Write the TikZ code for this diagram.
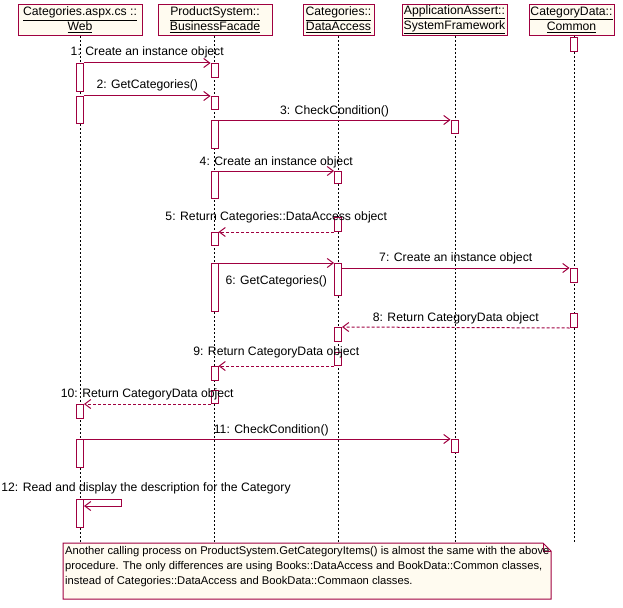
\documentclass[tikz,border=0pt]{standalone}
\usepackage{fontspec}
\setmainfont{Liberation Sans}
\usetikzlibrary{arrows.meta}
\definecolor{rosered}{RGB}{160,0,64}
\definecolor{rosecream}{RGB}{255,251,240}
\tikzset{>={Straight Barb[length=6pt,width=9pt]}}
\tikzset{
  objbox/.style={draw=rosered,fill=rosecream,line width=1pt,align=center,
    inner sep=1pt,minimum height=31pt,font=\fontsize{12.2}{15}\selectfont},
  actbox/.style={draw=rosered,fill=white,line width=1pt,minimum width=7pt,
    inner sep=0pt,anchor=north},
  lifeline/.style={dash pattern=on 2pt off 2pt,line width=0.9pt},
  msg/.style={->,draw=rosered,line width=1pt},
  ret/.style={msg,dash pattern=on 3pt off 2pt},
  lbl/.style={font=\fontsize{12.2}{15}\selectfont,anchor=base,inner sep=0pt}
}
\newcommand{\actbar}[4]{\node[actbox,minimum height=#4-#3] (#1) at (#2,#3) {};}

\begin{document}
\begin{tikzpicture}[x=1pt,y=-1pt]
  \useasboundingbox (0,0) rectangle (623,607);
  % objects
  \node[objbox,minimum width=124pt] (web) at (80,20) {\underline{Categories.aspx.cs ::}\\\underline{Web}};
  \node[objbox,minimum width=114pt] (facade) at (215,20) {\underline{ProductSystem::}\\\underline{BusinessFacade}};
  \node[objbox,minimum width=71pt] (access) at (338.5,20) {\underline{Categories::}\\\underline{DataAccess}};
  \node[objbox,minimum width=105pt] (framework) at (454.5,20) {\underline{ApplicationAssert::}\\\underline{SystemFramework}};
  \node[objbox,minimum width=85pt] (common) at (571.5,20) {\underline{CategoryData::}\\\underline{Common}};
  % lifelines
  \foreach \o/\x in {web/80,facade/214.5,access/338,framework/455,common/574}
    \draw[lifeline] (\x,0 |- \o.south) -- (\x,543);
  % activations
  \actbar{w1}{80}{63}{91}
  \actbar{w2}{80}{96}{123}
  \actbar{w3}{80}{404}{418}
  \actbar{w4}{80}{439}{467}
  \actbar{w5}{80}{499}{527}
  \actbar{f1}{214.5}{63}{77}
  \actbar{f2}{214.5}{96}{109}
  \actbar{f3}{214.5}{120}{148}
  \actbar{f4}{214.5}{171}{198}
  \actbar{f5}{214.5}{232}{245}
  \actbar{f6}{214.5}{263}{311}
  \actbar{f7}{214.5}{366}{380}
  \actbar{f8}{214.5}{390}{403}
  \actbar{a1}{338}{171}{183}
  \actbar{a2}{338}{217}{231}
  \actbar{a3}{338}{263}{295}
  \actbar{a4}{338}{327}{341}
  \actbar{a5}{338}{352}{365}
  \actbar{s1}{454.5}{120}{133}
  \actbar{s2}{454.5}{439}{452}
  \actbar{c1}{573.5}{37}{51}
  \actbar{c2}{573.5}{268}{282}
  \actbar{c3}{573.5}{313}{327}
  % messages
  \draw[msg] (w1.north east) -- (f1.north west) node[lbl,midway,yshift=7pt] {1: Create an instance object};
  \draw[msg] (w2.north east) -- (f2.north west) node[lbl,midway,yshift=7pt] {2: GetCategories()};
  \draw[msg] (f3.north east) -- (s1.north west) node[lbl,midway,yshift=6pt] {3: CheckCondition()};
  \draw[msg] (f4.north east) -- (a1.north west) node[lbl,midway,yshift=6pt] {4: Create an instance object};
  \draw[ret] (a2.south west) -- (f5.north east) node[lbl,midway,yshift=12pt] {5: Return Categories::DataAccess object};
  \draw[msg] (f6.north east) -- (a3.north west) node[lbl,midway,yshift=-21.5pt] {6: GetCategories()};
  \draw[msg] (a3.east |- c2.north) -- (c2.north west) node[lbl,midway,yshift=7pt] {7: Create an instance object};
  \draw[ret] (c3.south west) -- (a4.north east) node[lbl,midway,yshift=6pt] {8: Return CategoryData object};
  \draw[ret] (a5.south west) -- (f7.north east) node[lbl,midway,yshift=11pt] {9: Return CategoryData object};
  \draw[ret] (f8.south west) -- (w3.north east) node[lbl,midway,yshift=7pt] {10: Return CategoryData object};
  \draw[msg] (w4.north east) -- (s2.north west) node[lbl,midway,xshift=4pt,yshift=6pt] {11: CheckCondition()};
  \draw[msg] (w5.north east) -- (121,499) -- (121,506) -- (w5.east |- 0,506);
  \node[lbl] (selflbl) at (146,491) {12: Read and display the description for the Category};
  % note
  \fill[rosecream] (63,543) -- (543,543) -- (551,551) -- (551,599) -- (63,599) -- cycle;
  \draw[rosered,line width=1pt] (63,543) -- (543,543) -- (551,551) -- (551,599) -- (63,599) -- cycle;
  \draw[rosered,line width=0.6pt] (543,543) -- (543,551) -- (551,551);
  \node[anchor=north west,align=left,inner sep=0pt,font=\fontsize{11.2}{15}\selectfont] (note) at (65,546)
    {Another calling process on ProductSystem.GetCategoryItems() is almost the same with the above\\
     procedure. The only differences are using Books::DataAccess and BookData::Common classes,\\
     instead of Categories::DataAccess and BookData::Commaon classes.};
\end{tikzpicture}
\end{document}
